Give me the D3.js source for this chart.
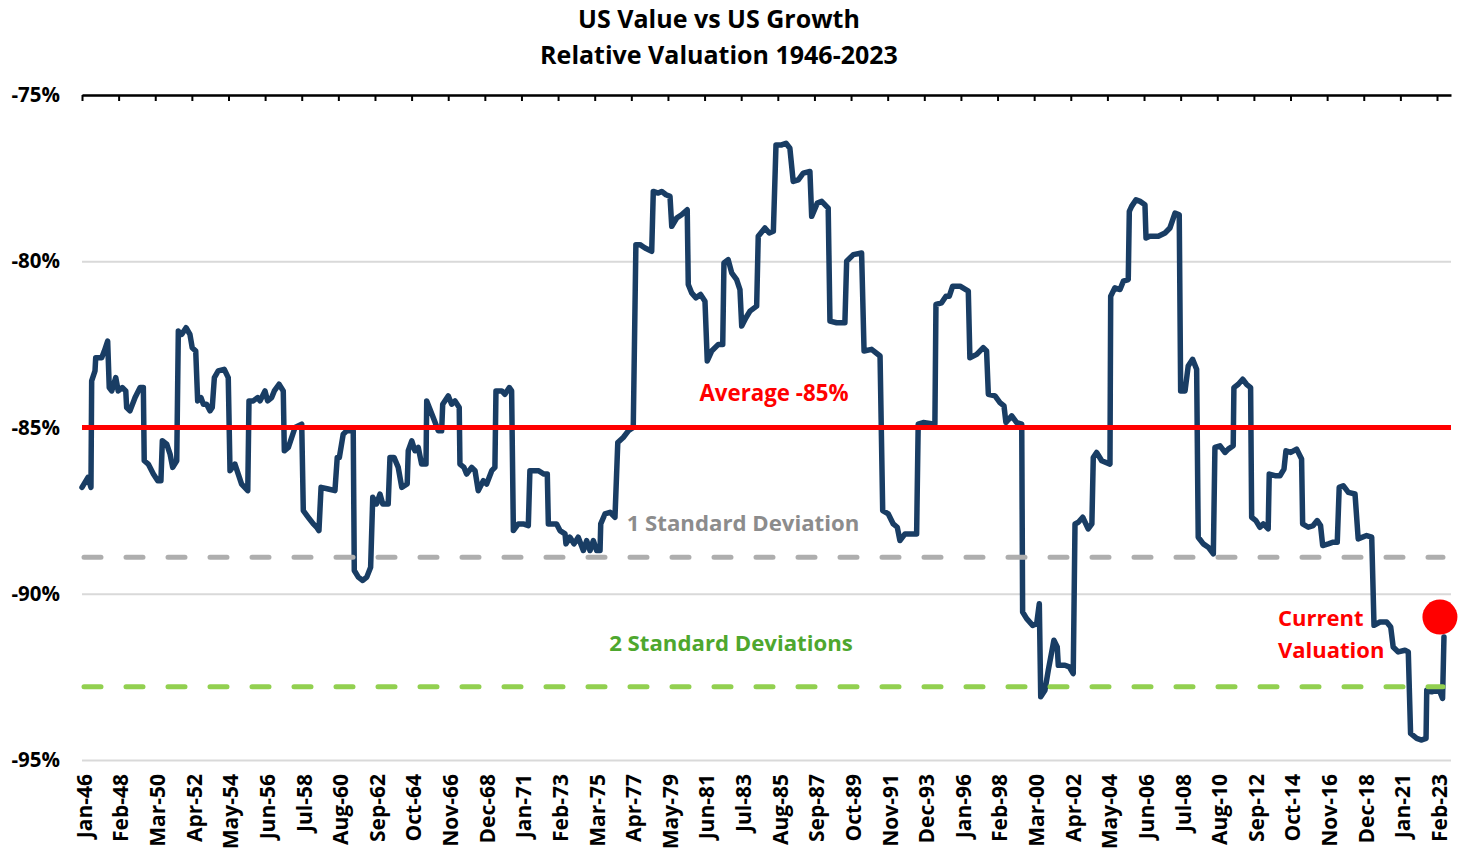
<!DOCTYPE html>
<html>
<head>
<meta charset="utf-8">
<script src="https://cdn.jsdelivr.net/npm/d3@7"></script>
<style>
  body { margin: 0; background: #fff; }
  text { font-family: "Open Sans", sans-serif; font-weight: 700; }
</style>
</head>
<body>
<div id="chart"></div>
<script>
const years = [
  1946.00, 1946.34, 1946.51, 1946.55, 1946.74, 1946.78, 1947.12, 1947.27, 1947.46, 1947.55,
  1947.69, 1947.92, 1948.06, 1948.29, 1948.49, 1948.54, 1948.73, 1949.02, 1949.30, 1949.49,
  1949.54, 1949.77, 1950.06, 1950.31, 1950.49, 1950.57, 1950.82, 1951.01, 1951.16, 1951.39,
  1951.48, 1951.67, 1951.92, 1952.14, 1952.27, 1952.47, 1952.58, 1952.77, 1952.90, 1953.09,
  1953.28, 1953.41, 1953.53, 1953.75, 1954.09, 1954.32, 1954.42, 1954.70, 1954.89, 1955.08,
  1955.43, 1955.50, 1955.74, 1955.99, 1956.13, 1956.41, 1956.56, 1956.79, 1956.94, 1957.21,
  1957.45, 1957.51, 1957.74, 1958.12, 1958.50, 1958.59, 1958.87, 1959.16, 1959.35, 1959.48,
  1959.60, 1960.01, 1960.39, 1960.52, 1960.64, 1960.86, 1961.06, 1961.43, 1961.49, 1961.72,
  1961.97, 1962.20, 1962.42, 1962.54, 1962.76, 1962.95, 1963.11, 1963.42, 1963.52, 1963.75,
  1963.99, 1964.19, 1964.50, 1964.56, 1964.76, 1964.94, 1965.13, 1965.32, 1965.57, 1965.61,
  1965.98, 1966.27, 1966.46, 1966.52, 1966.84, 1967.03, 1967.22, 1967.46, 1967.50, 1967.73,
  1967.88, 1968.17, 1968.36, 1968.54, 1968.83, 1969.02, 1969.31, 1969.49, 1969.55, 1969.88,
  1970.06, 1970.31, 1970.44, 1970.54, 1970.82, 1971.10, 1971.39, 1971.48, 1971.96, 1972.28,
  1972.47, 1972.53, 1973.00, 1973.19, 1973.48, 1973.53, 1973.76, 1973.99, 1974.23, 1974.52,
  1974.71, 1974.90, 1975.09, 1975.28, 1975.47, 1975.51, 1975.75, 1976.04, 1976.32, 1976.48,
  1976.79, 1977.08, 1977.36, 1977.51, 1977.74, 1978.03, 1978.41, 1978.50, 1978.78, 1978.98,
  1979.22, 1979.45, 1979.55, 1979.83, 1980.11, 1980.43, 1980.49, 1980.68, 1980.93, 1981.19,
  1981.44, 1981.57, 1981.82, 1982.20, 1982.45, 1982.52, 1982.76, 1982.96, 1983.24, 1983.43,
  1983.53, 1983.77, 1984.00, 1984.38, 1984.47, 1984.85, 1985.10, 1985.33, 1985.48, 1985.80,
  1986.05, 1986.27, 1986.46, 1986.75, 1987.03, 1987.41, 1987.51, 1987.83, 1988.08, 1988.45,
  1988.55, 1988.93, 1989.40, 1989.50, 1989.88, 1990.35, 1990.49, 1990.92, 1991.40, 1991.55,
  1991.87, 1992.15, 1992.38, 1992.53, 1992.82, 1993.48, 1993.57, 1993.86, 1994.52, 1994.58,
  1994.90, 1995.15, 1995.34, 1995.53, 1995.95, 1996.42, 1996.51, 1996.90, 1997.27, 1997.46,
  1997.56, 1997.94, 1998.22, 1998.45, 1998.56, 1998.89, 1999.17, 1999.46, 1999.51, 1999.74,
  2000.08, 2000.31, 2000.46, 2000.54, 2000.78, 2000.97, 2001.29, 2001.48, 2001.54, 2001.92,
  2002.16, 2002.39, 2002.49, 2002.68, 2002.93, 2003.24, 2003.45, 2003.53, 2003.72, 2004.01,
  2004.48, 2004.52, 2004.76, 2005.05, 2005.24, 2005.52, 2005.58, 2005.71, 2005.96, 2006.19,
  2006.47, 2006.53, 2006.75, 2007.23, 2007.61, 2007.89, 2008.18, 2008.42, 2008.50, 2008.75,
  2008.93, 2009.18, 2009.41, 2009.50, 2009.79, 2010.07, 2010.36, 2010.45, 2010.74, 2011.02,
  2011.21, 2011.49, 2011.53, 2011.78, 2012.03, 2012.25, 2012.48, 2012.54, 2012.78, 2013.01,
  2013.20, 2013.48, 2013.54, 2013.87, 2014.15, 2014.38, 2014.49, 2014.76, 2015.10, 2015.38,
  2015.44, 2015.76, 2016.04, 2016.27, 2016.46, 2016.58, 2016.90, 2017.18, 2017.41, 2017.52,
  2017.75, 2018.04, 2018.42, 2018.60, 2019.08, 2019.37, 2019.50, 2019.84, 2020.22, 2020.45,
  2020.59, 2020.88, 2021.26, 2021.45, 2021.58, 2021.93, 2022.21, 2022.46, 2022.50, 2022.78,
  2023.06, 2023.25, 2023.40, 2023.48
]

const valuation = [
  -86.8, -86.5, -86.8, -83.6, -83.3, -82.9, -82.9, -82.7, -82.4, -83.8,
  -83.9, -83.5, -83.9, -83.8, -83.9, -84.4, -84.5, -84.1, -83.8, -83.8,
  -86.0, -86.1, -86.4, -86.6, -86.6, -85.4, -85.5, -85.8, -86.2, -86.0,
  -82.1, -82.2, -82.0, -82.2, -82.6, -82.7, -84.2, -84.1, -84.3, -84.3,
  -84.5, -84.4, -83.5, -83.3, -83.25, -83.5, -86.3, -86.1, -86.4, -86.7,
  -86.9, -84.2, -84.2, -84.1, -84.2, -83.9, -84.2, -84.1, -83.9, -83.7,
  -83.9, -85.7, -85.6, -85.0, -84.9, -87.5, -87.7, -87.9, -88.0, -88.1,
  -86.8, -86.85, -86.9, -85.9, -85.9, -85.2, -85.1, -85.1, -89.3, -89.5,
  -89.6, -89.5, -89.2, -87.1, -87.3, -87.0, -87.3, -87.3, -85.9, -85.9,
  -86.2, -86.8, -86.7, -85.7, -85.4, -85.7, -85.6, -86.1, -86.1, -84.2,
  -84.7, -85.1, -85.1, -84.3, -84.05, -84.3, -84.2, -84.4, -86.1, -86.2,
  -86.4, -86.2, -86.3, -86.9, -86.6, -86.7, -86.3, -86.2, -83.9, -83.9,
  -84.0, -83.8, -83.9, -88.1, -87.9, -87.9, -87.95, -86.3, -86.3, -86.4,
  -86.4, -87.9, -87.9, -88.1, -88.2, -88.5, -88.3, -88.5, -88.3, -88.7,
  -88.4, -88.7, -88.4, -88.7, -88.7, -87.9, -87.6, -87.55, -87.7, -85.45,
  -85.3, -85.1, -85.0, -79.5, -79.5, -79.6, -79.7, -77.9, -77.95, -77.9,
  -78.0, -78.05, -78.95, -78.7, -78.6, -78.45, -80.7, -80.95, -81.1, -81.0,
  -81.2, -83.0, -82.7, -82.5, -82.5, -80.05, -79.95, -80.35, -80.55, -80.85,
  -81.95, -81.7, -81.5, -81.35, -79.25, -79.0, -79.15, -79.1, -76.5, -76.5,
  -76.45, -76.6, -77.6, -77.55, -77.35, -77.3, -78.65, -78.25, -78.2, -78.4,
  -81.8, -81.85, -81.85, -80.0, -79.8, -79.75, -82.7, -82.65, -82.85, -87.5,
  -87.6, -87.9, -88.0, -88.4, -88.2, -88.2, -84.9, -84.85, -84.9, -81.3,
  -81.25, -81.05, -81.05, -80.75, -80.75, -80.9, -82.9, -82.8, -82.6, -82.7,
  -84.0, -84.05, -84.25, -84.35, -84.85, -84.65, -84.85, -84.9, -90.55, -90.75,
  -90.95, -90.9, -90.3, -93.1, -92.9, -92.3, -91.4, -91.6, -92.15, -92.15,
  -92.2, -92.4, -87.9, -87.85, -87.7, -88.05, -87.9, -85.9, -85.75, -86.0,
  -86.1, -81.05, -80.8, -80.85, -80.6, -80.55, -78.5, -78.35, -78.15, -78.2,
  -78.3, -79.3, -79.25, -79.25, -79.15, -79.0, -78.55, -78.6, -83.9, -83.9,
  -83.15, -82.95, -83.25, -88.3, -88.5, -88.6, -88.8, -85.6, -85.55, -85.75,
  -85.65, -85.55, -83.8, -83.7, -83.55, -83.7, -83.8, -87.7, -87.8, -88.0,
  -87.9, -88.05, -86.4, -86.45, -86.45, -86.25, -85.7, -85.75, -85.65, -85.95,
  -87.9, -88.0, -87.95, -87.8, -87.95, -88.55, -88.5, -88.45, -88.45, -86.8,
  -86.75, -86.95, -87.0, -88.35, -88.25, -88.3, -90.95, -90.85, -90.85, -91.0,
  -91.6, -91.75, -91.7, -91.75, -94.2, -94.35, -94.4, -94.35, -92.9, -92.95,
  -92.9, -92.95, -93.15, -91.3
]

const tickLabels = [
  'Jan-46', 'Feb-48', 'Mar-50', 'Apr-52', 'May-54', 'Jun-56', 'Jul-58', 'Aug-60',
  'Sep-62', 'Oct-64', 'Nov-66', 'Dec-68', 'Jan-71', 'Feb-73', 'Mar-75', 'Apr-77',
  'May-79', 'Jun-81', 'Jul-83', 'Aug-85', 'Sep-87', 'Oct-89', 'Nov-91', 'Dec-93',
  'Jan-96', 'Feb-98', 'Mar-00', 'Apr-02', 'May-04', 'Jun-06', 'Jul-08', 'Aug-10',
  'Sep-12', 'Oct-14', 'Nov-16', 'Dec-18', 'Jan-21', 'Feb-23'
]
const yTicks = [-75, -80, -85, -90, -95]

// reference levels
const average = -85
const oneSd = -88.9
const twoSd = -92.8
const current = [2023.25, -90.7]

const margin = { top: 95, right: 12, bottom: 90, left: 82 }
const width = 1463 - margin.left - margin.right
const height = 850 - margin.top - margin.bottom

const svg = d3.select('#chart')
  .append('svg')
  .attr('width', 1463)
  .attr('height', 850)

// title
svg.append('text')
  .attr('x', 719)
  .attr('y', 28)
  .attr('text-anchor', 'middle')
  .attr('font-size', 25)
  .text('US Value vs US Growth')

svg.append('text')
  .attr('x', 719)
  .attr('y', 64)
  .attr('text-anchor', 'middle')
  .attr('font-size', 25)
  .text('Relative Valuation 1946-2023')

const g = svg.append('g')
  .attr('transform', 'translate(' + margin.left + ',' + margin.top + ')')

const x = d3.scaleLinear().domain([1946, 2023.88]).range([0, width])
const y = d3.scaleLinear().domain([-95, -75]).range([height, 0])

// tick k sits 25 months after tick k-1
const tickYears = tickLabels.map((d, i) => 1946 + (i * 25) / 12)

// gridlines + y labels
const yAxis = d3.axisLeft(y)
  .tickValues(yTicks)
  .tickSize(-width)
  .tickPadding(22)
  .tickFormat(d => d + '%')

g.append('g')
  .attr('class', 'y-axis')
  .call(yAxis)
  .call(s => s.select('.domain').remove())
  .call(s => s.selectAll('line').attr('stroke', '#d9d9d9').attr('stroke-width', 2))
  .call(s => s.selectAll('text')
    .attr('font-size', 20.5)
    .attr('fill', '#000')
    .style('font-family', '"Open Sans", sans-serif'))

// black axis line along the top with ticks hanging down
const topAxis = d3.axisBottom(x)
  .tickValues(tickYears)
  .tickSize(6)
  .tickSizeOuter(0)
  .tickFormat('')

g.append('g')
  .attr('class', 'axis top-axis')
  .call(topAxis)
  .call(s => s.select('.domain').attr('stroke', '#000').attr('stroke-width', 2.5))
  .call(s => s.selectAll('line').attr('stroke', '#000').attr('stroke-width', 2))

// month labels along the bottom
const xAxis = d3.axisBottom(x)
  .tickValues(tickYears)
  .tickSize(0)
  .tickFormat((d, i) => tickLabels[i])

g.append('g')
  .attr('class', 'axis x-axis')
  .attr('transform', 'translate(0,' + height + ')')
  .call(xAxis)
  .call(s => s.select('.domain').remove())
  .call(s => s.selectAll('text')
    .attr('font-size', 21)
    .attr('fill', '#000')
    .style('font-family', '"Open Sans", sans-serif')
    .attr('text-anchor', 'end')
    .attr('transform', 'rotate(-90)')
    .attr('x', -14)
    .attr('y', 2)
    .attr('dy', '0.35em'))

// the series
const points = d3.zip(years, valuation)
const line = d3.line()
  .x(d => x(d[0]))
  .y(d => y(d[1]))

g.append('path')
  .datum(points)
  .attr('d', line)
  .attr('fill', 'none')
  .attr('stroke', '#193d64')
  .attr('stroke-width', 5.5)
  .attr('stroke-linejoin', 'round')
  .attr('stroke-linecap', 'round')

// average and standard deviation lines
g.append('line')
  .attr('x1', 0).attr('x2', width)
  .attr('y1', y(average)).attr('y2', y(average))
  .attr('stroke', '#ff0000')
  .attr('stroke-width', 5)

g.append('line')
  .attr('x1', 2).attr('x2', width - 8)
  .attr('y1', y(oneSd)).attr('y2', y(oneSd))
  .attr('stroke', '#aeaeae')
  .attr('stroke-width', 5)
  .attr('stroke-linecap', 'round')
  .attr('stroke-dasharray', '17 25')

g.append('line')
  .attr('x1', 2).attr('x2', width - 8)
  .attr('y1', y(twoSd)).attr('y2', y(twoSd))
  .attr('stroke', '#92d050')
  .attr('stroke-width', 5)
  .attr('stroke-linecap', 'round')
  .attr('stroke-dasharray', '17 25')

// current valuation marker
g.append('circle')
  .attr('cx', x(current[0]))
  .attr('cy', y(current[1]))
  .attr('r', 17.5)
  .attr('fill', '#ff0000')

// annotations
svg.append('text')
  .attr('x', 774).attr('y', 401)
  .attr('text-anchor', 'middle')
  .attr('font-size', 22.3)
  .attr('fill', '#ff0000')
  .text('Average -85%')

svg.append('text')
  .attr('x', 743).attr('y', 531)
  .attr('text-anchor', 'middle')
  .attr('font-size', 22.2)
  .attr('fill', '#8c8c8c')
  .text('1 Standard Deviation')

svg.append('text')
  .attr('x', 731).attr('y', 651)
  .attr('text-anchor', 'middle')
  .attr('font-size', 22.2)
  .attr('fill', '#4ea72e')
  .text('2 Standard Deviations')

svg.append('text')
  .attr('x', 1278).attr('y', 626)
  .attr('font-size', 22)
  .attr('fill', '#ff0000')
  .text('Current')

svg.append('text')
  .attr('x', 1278).attr('y', 658)
  .attr('font-size', 22)
  .attr('fill', '#ff0000')
  .text('Valuation')
</script>
</body>
</html>
